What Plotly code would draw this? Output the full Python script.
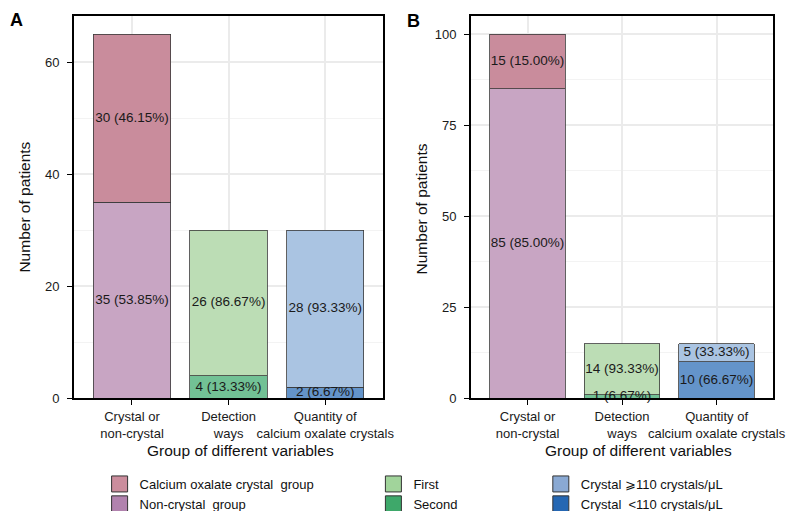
import plotly.graph_objects as go

groups = ["Crystal or<br>non-crystal", "Detection<br>ways", "Quantity of<br>calcium oxalate crystals"]

# panel A
a_bottom = [35, 4, 2]
a_top = [30, 26, 28]
# panel B
b_bottom = [85, 1, 10]
b_top = [15, 14, 5]

legend_names = [
    ["Calcium oxalate crystal\u00a0 group", "Non-crystal\u00a0 group"],
    ["First", "Second"],
    ["Crystal \u2a7e110 crystals/\u03bcL", "Crystal \u00a0<110 crystals/\u03bcL"],
]

top_colors = ["#C98C9C", "#BCDDB5", "#AAC4E2"]
bottom_colors = ["#C8A5C3", "#72C195", "#6494CA"]
legend_colors = [["#CB8D9D", "#B182AE"], ["#A1D49B", "#3EA86A"], ["#8AA9D3", "#2567B3"]]

FONT = "Arial, Liberation Sans, sans-serif"


def label(n, total):
    return "%d (%.2f%%)" % (n, 100.0 * n / total)


fig = go.Figure()


def add_panel(bottom, top, xa, ya):
    totals = [b + t for b, t in zip(bottom, top)]
    fig.add_trace(go.Bar(
        x=groups, y=bottom, xaxis=xa, yaxis=ya, width=0.8,
        marker=dict(color=bottom_colors, line=dict(color="#3a3a3a", width=0.8)),
        showlegend=False, hoverinfo="skip"
    ))
    fig.add_trace(go.Bar(
        x=groups, y=top, xaxis=xa, yaxis=ya, width=0.8,
        marker=dict(color=top_colors, line=dict(color="#3a3a3a", width=0.8)),
        showlegend=False, hoverinfo="skip"
    ))
    # labels in the middle of each segment
    fig.add_trace(go.Scatter(
        x=groups + groups,
        y=[b / 2 for b in bottom] + [b + t / 2 for b, t in zip(bottom, top)],
        text=[label(b, s) for b, s in zip(bottom, totals)] + [label(t, s) for t, s in zip(top, totals)],
        mode="text", xaxis=xa, yaxis=ya, cliponaxis=False,
        textfont=dict(family=FONT, size=13.5, color="#1a1a1a"),
        showlegend=False, hoverinfo="skip"
    ))


add_panel(a_bottom, a_top, "x", "y")
add_panel(b_bottom, b_top, "x2", "y2")

# legend entries
legend_ids = ["legend", "legend2", "legend3"]
for i in range(3):
    for j in range(2):
        fig.add_trace(go.Scatter(
            x=[None], y=[None], mode="markers", name=legend_names[i][j],
            legend=legend_ids[i],
            marker=dict(symbol="square", size=16, color=legend_colors[i][j],
                        line=dict(color="#333333", width=1))
        ))

xaxis_style = dict(
    type="category", range=[-0.6, 2.6], tickangle=0,
    showline=True, mirror=True, linecolor="black", linewidth=1.8,
    showgrid=True, gridcolor="#EBEBEB", gridwidth=2,
    ticks="outside", ticklen=5, tickcolor="black", tickwidth=1,
    tickfont=dict(family=FONT, size=13, color="#1a1a1a"),
    zeroline=False, fixedrange=True
)


def yaxis_style(top, step):
    return dict(
        range=[0, top], dtick=step,
        showline=True, mirror=True, linecolor="black", linewidth=1.8,
        showgrid=True, gridcolor="#EBEBEB", gridwidth=2,
        minor=dict(dtick=step / 2, showgrid=True, gridcolor="#F3F3F3", gridwidth=1.2),
        ticks="outside", ticklen=5, tickcolor="black", tickwidth=1,
        ticklabelstandoff=5,
        tickfont=dict(family=FONT, size=13, color="#1a1a1a"),
        zeroline=False, fixedrange=True
    )


legend_style = dict(
    orientation="v", yanchor="top", y=0.083, xanchor="left", traceorder="normal",
    font=dict(family="Liberation Sans Narrow, Arial Narrow, " + FONT, size=13, color="#111111"),
    bgcolor="rgba(0,0,0,0)", tracegroupgap=0, itemclick=False
)

fig.update_layout(
    width=794, height=511,
    margin=dict(l=0, r=0, t=0, b=0),
    paper_bgcolor="white", plot_bgcolor="white",
    barmode="stack", bargap=0.2,
    font=dict(family=FONT, color="#111111"),
    xaxis=dict(domain=[67 / 794, 381 / 794], anchor="y", **xaxis_style),
    yaxis=dict(domain=[0.224, 0.984], anchor="x", **yaxis_style(65 * 1.05, 20)),
    xaxis2=dict(domain=[470 / 794, 777 / 794], anchor="y2", **xaxis_style),
    yaxis2=dict(domain=[0.224, 0.984], anchor="x2", **yaxis_style(100 * 1.05, 25)),
    legend=dict(x=93 / 794, **legend_style),
    legend2=dict(x=371 / 794, **legend_style),
    legend3=dict(x=541 / 794, **legend_style),
)

# axis titles and panel letters
notes = [
    dict(text="Group of different variables", x=236 / 794, y=1 - 450 / 511, angle=0),
    dict(text="Group of different variables", x=640 / 794, y=1 - 450 / 511, angle=0),
    dict(text="Number of patients", x=17 / 794, y=1 - 202 / 511, angle=-90),
    dict(text="Number of patients", x=420 / 794, y=1 - 204 / 511, angle=-90),
]
for n in notes:
    fig.add_annotation(
        text=n["text"], x=n["x"], y=n["y"], xref="paper", yref="paper",
        showarrow=False, textangle=n["angle"], xanchor="center", yanchor="middle",
        font=dict(family=FONT, size=15.5, color="#111111")
    )

fig.add_annotation(text="<b>A</b>", x=0, y=1.0, xref="paper", yref="paper",
                   showarrow=False, xanchor="left", yanchor="top",
                   font=dict(family=FONT, size=18, color="black"))
fig.add_annotation(text="<b>B</b>", x=403 / 794, y=1 - 1 / 511, xref="paper", yref="paper",
                   showarrow=False, xanchor="left", yanchor="top",
                   font=dict(family=FONT, size=18, color="black"))

fig.write_html("out.html")
